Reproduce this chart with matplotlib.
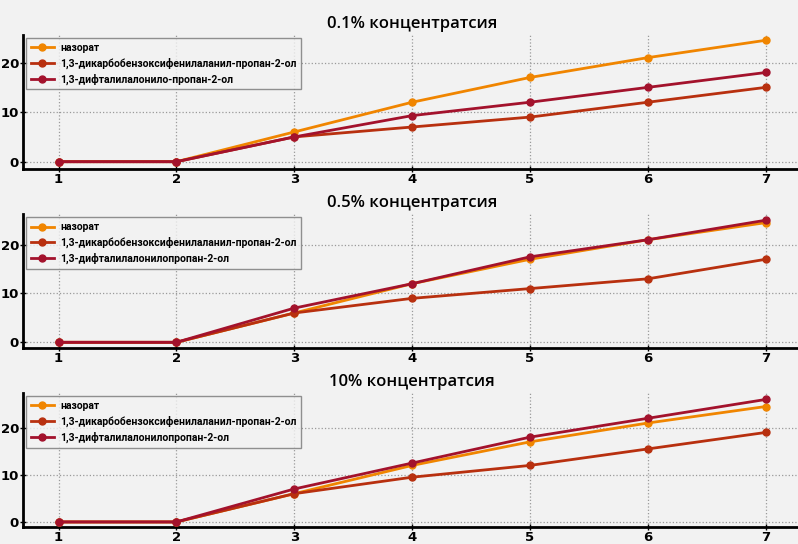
import numpy as np
import matplotlib
matplotlib.use("Agg")
import matplotlib.pyplot as plt

plt.rcParams['font.family'] = ['DejaVu Sans']

days = [1, 2, 3, 4, 5, 6, 7]

# контроль одинаковый для всех концентраций
nazorat = [0, 0, 6, 12, 17, 21, 24.5]

dikarbo_01 = [0, 0, 5, 7, 9, 12, 15]
diftalil_01 = [0, 0, 5, 9.3, 12, 15, 18]

dikarbo_05 = [0, 0, 6, 9, 11, 13, 17]
diftalil_05 = [0, 0, 7, 12, 17.5, 21, 25]

dikarbo_10 = [0, 0, 6, 9.5, 12, 15.5, 19]
diftalil_10 = [0, 0, 7, 12.5, 18, 22, 26]

titles = ["0.1% концентратсия", "0.5% концентратсия", "10% концентратсия"]
names_dikarbo = "1,3-дикарбобензоксифенилаланил-пропан-2-ол"
names_diftalil = ["1,3-дифталилалонило-пропан-2-ол",
                  "1,3-дифталилалонилопропан-2-ол",
                  "1,3-дифталилалонилопропан-2-ол"]

panels = [(dikarbo_01, diftalil_01), (dikarbo_05, diftalil_05), (dikarbo_10, diftalil_10)]
ylims = [(-1.4, 25.6), (-1.2, 26.2), (-1.1, 27.3)]
# позиции осей [left, bottom, width, height]
rects = [[0.029, 0.690, 0.975, 0.246],
         [0.029, 0.360, 0.975, 0.246],
         [0.029, 0.031, 0.975, 0.246]]

bg = '#f2f2f2'
c_naz = '#f08500'
c_dik = '#b8300f'
c_dif = '#a3122c'

fig = plt.figure(figsize=(7.98, 5.44), dpi=100, facecolor=bg)

for i, (dik, dif) in enumerate(panels):
    ax = fig.add_axes(rects[i], facecolor=bg)
    ax.plot(days, nazorat, '-o', color=c_naz, lw=2, ms=5, label="назорат", zorder=3)
    ax.plot(days, dik, '-o', color=c_dik, lw=2, ms=5, label=names_dikarbo, zorder=3)
    ax.plot(days, dif, '-o', color=c_dif, lw=2, ms=5, label=names_diftalil[i], zorder=3)

    ax.set_xlim(0.7, 7.3)
    ax.set_ylim(*ylims[i])
    ax.set_xticks(days)
    ax.set_yticks([0, 10, 20])
    ax.grid(True, linestyle=':', color='#9a9a9a', lw=0.9)
    ax.set_axisbelow(True)

    for s in ['top', 'right']:
        ax.spines[s].set_visible(False)
    for s in ['left', 'bottom']:
        ax.spines[s].set_linewidth(2)
        ax.spines[s].set_color('black')
    ax.tick_params(direction='inout', length=5, width=1, labelsize=9.5, pad=0.5)
    for lab in ax.get_xticklabels() + ax.get_yticklabels():
        lab.set_fontweight('bold')

    ax.set_title(titles[i], fontsize=12, pad=5, fontweight='semibold',
                 family=['Open Sans', 'DejaVu Sans'])
    leg = ax.legend(loc='upper left',
                    prop={'weight': 'bold', 'size': 7.5, 'family': ['Roboto', 'DejaVu Sans']},
                    frameon=True, fancybox=False, borderpad=0.45, labelspacing=0.45,
                    handlelength=2.2, handletextpad=0.6, borderaxespad=0.3)
    leg.get_frame().set_facecolor(bg)
    leg.get_frame().set_edgecolor('#777777')
    leg.get_frame().set_linewidth(1)

fig.savefig("out.png", dpi=100, facecolor=bg)
